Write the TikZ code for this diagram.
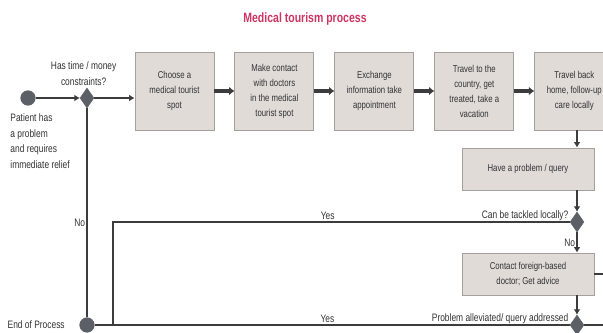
\documentclass[tikz,border=0pt]{standalone}
\usepackage{fontspec}
\setmainfont{Liberation Sans}[FakeStretch=0.78]
\usepackage{xcolor}
\usetikzlibrary{positioning, arrows.meta, shapes.geometric}
\definecolor{boxfill}{RGB}{225,219,216}
\definecolor{boxline}{RGB}{165,160,157}
\definecolor{flowline}{RGB}{60,60,62}
\definecolor{marker}{RGB}{92,96,102}
\definecolor{titlered}{RGB}{204,52,100}
\definecolor{txt}{RGB}{50,50,50}

\begin{document}
\begin{tikzpicture}[
  font=\fontsize{8.5}{12.8}\selectfont,
  text=txt,
  node distance=6mm and 6mm,
  box/.style={draw=boxline, fill=boxfill, line width=0.8pt, align=center,
              minimum width=23.7mm, minimum height=23.4mm, inner sep=2pt},
  widebox/.style={box, minimum width=39.6mm, minimum height=12.6mm},
  decision/.style={diamond, draw=marker, fill=marker, minimum width=4.2mm,
                   minimum height=6mm, inner sep=0pt},
  terminal/.style={circle, draw=marker, fill=marker, minimum size=4.4mm, inner sep=0pt},
  lbl/.style={inner sep=1pt, align=center, font=\fontsize{9.2}{13.4}\selectfont},
  flow/.style={draw=flowline, line width=1.4pt},
  arr/.style={flow, -{Latex[length=1.6mm, width=2mm]}},
  fat/.style={draw=flowline, line width=3pt, -{Latex[length=1.6mm, width=2.6mm]}}
]
\useasboundingbox (0,0) rectangle (18.09,-9.99);
\clip (0,0) rectangle (18.09,-9.99);
\node[font=\fontsize{11.5}{13}\selectfont\bfseries, text=titlered] (title) at (9.15,-0.57) {Medical tourism process};
\node[terminal] (start) at (0.84,-2.94) {};
\node[decision] (check) at (2.61,-2.94) {};
\node[box] (choose) at (5.235,-2.73) {Choose a\\medical tourist\\spot};
\node[box, right=of choose] (contact) {Make contact\\with doctors\\in the medical\\tourist spot};
\node[box, right=of contact] (exchange) {Exchange\\information take\\appointment};
\node[box, right=of exchange] (travel) {Travel to the\\country, get\\treated, take a\\vacation};
\node[box, right=of travel] (back) {Travel back\\home, follow-up\\care locally};
\node[widebox] (query) at (15.84,-5.07) {Have a problem / query};
\node[decision] (local) at (17.31,-6.66) {};
\node[widebox] (foreign) at (15.84,-8.22) {Contact foreign-based\\doctor; Get advice};
\node[decision] (solved) at (17.31,-9.75) {};
\node[terminal] (finish) at (2.61,-9.75) {};
\node[lbl, above=1pt of check, xshift=-1mm] (constraint) {Has time / money\\constraints?};
\node[lbl, align=left, anchor=north west] (patient) at ([xshift=-5.7mm, yshift=-2mm]start.south)
  {Patient has\\a problem\\and requires\\immediate relief};
\node[lbl, left=4mm of finish] (endlbl) {End of Process};
\node[lbl, anchor=south east] (tackle) at (local.west) {Can be tackled locally?};
\node[lbl, anchor=south east] (alleviate) at (solved.west) {Problem alleviated/ query addressed};
\coordinate (yesturn) at (3.39,-6.66);
\coordinate (rim) at (18.3,0);
\draw[arr] (start) -- (check);
\draw[arr] (check) -- (check -| choose.west);
\draw[fat] (choose) -- (contact);
\draw[fat] (contact) -- (exchange);
\draw[fat] (exchange) -- (travel);
\draw[fat] (travel) -- (back);
\draw[arr] (back.south -| local) -- (query.north -| local);
\draw[arr] (query.south -| local) -- (local);
\draw[arr] (local) -- node[lbl, left] (no2) {No} (foreign.north -| local);
\draw[arr] (foreign.south -| local) -- (solved);
\draw[flow] (local) -- node[lbl, above, pos=0.53] (yes1) {Yes} (yesturn) -- (yesturn |- finish);
\draw[flow] (solved) -- node[lbl, above, pos=0.51] (yes2) {Yes} (finish);
\draw[flow] (check) -- node[lbl, left, pos=0.55] (no1) {No} (finish);
\draw[flow] (foreign.east) -- (foreign.east -| rim);
\draw[flow] (solved) -- (solved -| rim);
\end{tikzpicture}
\end{document}
